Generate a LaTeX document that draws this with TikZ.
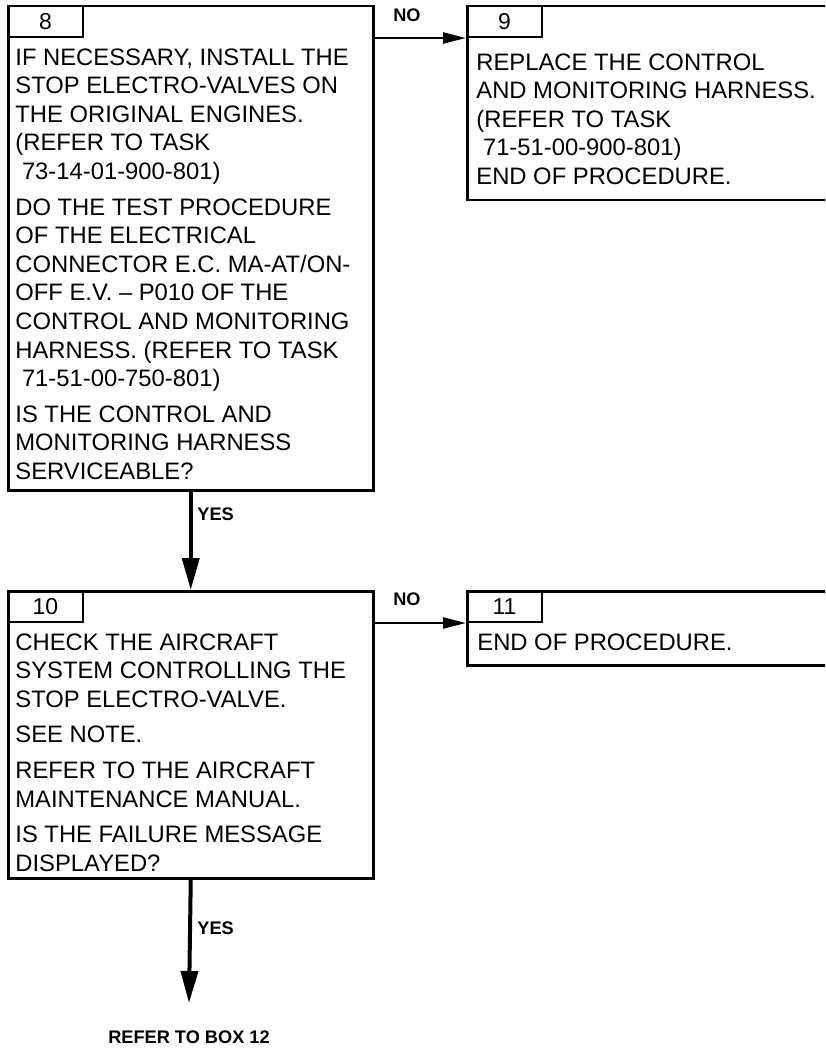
\documentclass[tikz,border=0pt]{standalone}
\usepackage{fontspec}
\setmainfont{Liberation Sans}
\usetikzlibrary{arrows.meta}
\tikzset{
  box/.style={draw, line width=1.25pt, anchor=north west, inner sep=0pt},
  tab/.style={draw, line width=1pt, anchor=north west, inner sep=0pt, minimum width=37.5pt, minimum height=15.5pt, font=\fontsize{11.5pt}{12pt}\selectfont},
  body/.style={anchor=north west, inner sep=0pt, align=left, font=\fontsize{11.9pt}{14.3pt}\selectfont},
  lbl/.style={inner sep=0pt, font=\bfseries\fontsize{9.1pt}{10pt}\selectfont},
  noflow/.style={line width=1.2pt, -{Triangle[length=11.5pt, width=5.5pt]}},
  yesflow/.style={line width=2pt, -{Triangle[length=16pt, width=8.5pt]}}
}
\begin{document}
\begin{tikzpicture}[x=0.5pt, y=-0.5pt]
  \useasboundingbox (0,0) rectangle (825,1048);
  \clip (0,0) rectangle (825,1048);
  \node[box, minimum width=182.5pt, minimum height=242pt] (box8) at (7,5) {};
  \node[tab] (tab8) at (7,5) {8};
  \node[body] (txt8) at (15,48) {IF NECESSARY, INSTALL THE\\ STOP ELECTRO-VALVES ON\\ THE ORIGINAL ENGINES.\\ (REFER TO TASK\\ \ 73-14-01-900-801)\\[3.5pt]
    DO THE TEST PROCEDURE\\ OF THE ELECTRICAL\\ CONNECTOR E.C. MA-AT/ON-\\ OFF E.V. – P010 OF THE\\ CONTROL AND MONITORING\\ HARNESS. (REFER TO TASK\\ \ 71-51-00-750-801)\\[3.5pt]
    IS THE CONTROL AND\\ MONITORING HARNESS\\ SERVICEABLE?};
  \node[box, minimum width=187pt, minimum height=97pt] (box9) at (466,5) {};
  \node[tab] (tab9) at (466,5) {9};
  \node[body] (txt9) at (476,53) {REPLACE THE CONTROL\\ AND MONITORING HARNESS.\\ (REFER TO TASK\\ \ 71-51-00-900-801)\\ END OF PROCEDURE.};
  \node[box, minimum width=182.5pt, minimum height=143.5pt] (box10) at (7,590) {};
  \node[tab] (tab10) at (7,590) {10};
  \node[body] (txt10) at (15,633) {CHECK THE AIRCRAFT\\ SYSTEM CONTROLLING THE\\ STOP ELECTRO-VALVE.\\[3.5pt]
    SEE NOTE.\\[3.5pt]
    REFER TO THE AIRCRAFT\\ MAINTENANCE MANUAL.\\[3.5pt]
    IS THE FAILURE MESSAGE\\ DISPLAYED?};
  \node[box, minimum width=187pt, minimum height=37pt] (box11) at (466,590) {};
  \node[tab] (tab11) at (466,590) {11};
  \node[body] (txt11) at (477,633) {END OF PROCEDURE.};
  \node[lbl] (ref12) at (189,1037) {REFER TO BOX 12};
  \coordinate (tip12) at (189,1003);
  \draw[noflow] (tab8.south -| box8.east) -- (tab9.south west);
  \node[lbl] (no8) at (407,15) {NO};
  \draw[yesflow] (box8.south) -- (box10.north);
  \node[lbl, anchor=west] (yes8) at (197,514) {YES};
  \draw[noflow] (tab10.south -| box10.east) -- (tab11.south west);
  \node[lbl] (no10) at (407,599) {NO};
  \draw[yesflow] (box10.south) -- (tip12);
  \node[lbl, anchor=west] (yes10) at (197,928) {YES};
\end{tikzpicture}
\end{document}
